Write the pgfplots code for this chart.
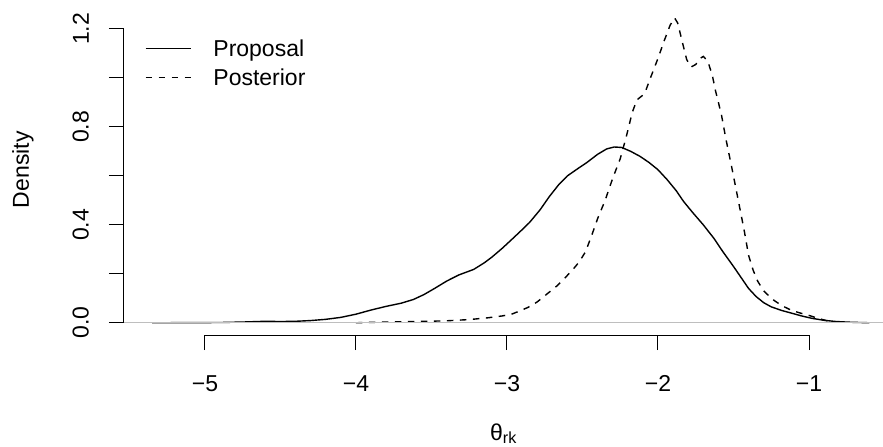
\documentclass[border=0pt]{standalone}
\usepackage{fontspec}
\setmainfont{Liberation Sans}
\usepackage{pgfplots}
\pgfplotsset{compat=1.18}
\definecolor{rgray}{RGB}{190,190,190}
\begin{document}
\fontsize{23bp}{27bp}\selectfont
\begin{tikzpicture}
\begin{axis}[
 name=ax,
 scale only axis, width=759bp, height=330.5bp,
 xmin=-5.536, xmax=-0.51, ymin=-0.05, ymax=1.30,
 clip=false,
 axis x line*=bottom, axis y line*=left,
 axis line style={draw=none},
 xtick={-5,-4,-3,-2,-1},
 xticklabels={−5,−4,−3,−2,−1},
 ytick={0,0.2,0.4,0.6,0.8,1.0,1.2},
 yticklabels={0.0,,0.4,,0.8,,1.2},
 minor tick num=0,
 tick align=outside, major tick length=15bp,
 tick style={black, line width=1bp},
 xticklabel style={anchor=north, inner sep=0pt},
 yticklabel style={rotate=90, anchor=south, inner sep=0pt},
 xticklabel shift=25bp,
 yticklabel shift=20bp,
 xlabel={θ\textsubscript{rk}},
 ylabel={Density},
 xlabel style={at={(axis description cs:0.5,-0.3177)}, anchor=base, inner sep=0pt},
 ylabel style={at={(axis description cs:-0.1252,0.5)}, anchor=base, inner sep=0pt},
 legend style={at={(axis description cs:0.0277,0.8926)}, anchor=north west, draw=none, fill=none,
   inner sep=0pt, outer sep=0pt, column sep=22bp, row sep=12.5bp,
   nodes={inner sep=0pt, text height=16.5bp, text depth=0pt}},
 legend cell align=left,
 legend image code/.code={\draw[#1] (0bp,0bp) -- (45bp,0bp);},
]
\addplot[black, line width=1.4bp] coordinates {
(-5.35,0.000) (-5.1,0.0005) (-4.9,0.001) (-4.75,0.003) (-4.6,0.006) (-4.5,0.005)
(-4.4,0.006) (-4.3,0.009) (-4.2,0.014) (-4.1,0.022) (-4.0,0.035) (-3.9,0.052)
(-3.8,0.067) (-3.7,0.080) (-3.62,0.095) (-3.55,0.115) (-3.48,0.140) (-3.4,0.170)
(-3.32,0.195) (-3.22,0.218) (-3.15,0.245) (-3.1,0.268) (-3.03,0.305) (-2.96,0.345)
(-2.9,0.380) (-2.85,0.410) (-2.78,0.462) (-2.72,0.515) (-2.66,0.562) (-2.6,0.600)
(-2.53,0.630) (-2.47,0.655) (-2.4,0.688) (-2.34,0.710) (-2.29,0.718) (-2.24,0.716)
(-2.18,0.700) (-2.12,0.680) (-2.06,0.655) (-2.0,0.625) (-1.94,0.585) (-1.88,0.540)
(-1.83,0.495) (-1.77,0.450) (-1.70,0.400) (-1.63,0.345) (-1.57,0.290) (-1.50,0.230)
(-1.45,0.185) (-1.40,0.140) (-1.35,0.107) (-1.30,0.082) (-1.25,0.065) (-1.18,0.050)
(-1.12,0.040) (-1.05,0.028) (-0.98,0.018) (-0.90,0.010) (-0.82,0.005) (-0.72,0.002)
(-0.60,0.000)
};
\addlegendentry{Proposal}
\addplot[black, line width=1.4bp, dash pattern=on 6.5bp off 6.5bp] coordinates {
(-4.0,0.000) (-3.8,0.003) (-3.6,0.005) (-3.4,0.008) (-3.25,0.013) (-3.13,0.020)
(-3.03,0.028) (-2.97,0.035) (-2.92,0.047) (-2.86,0.063) (-2.80,0.085) (-2.74,0.115)
(-2.67,0.150) (-2.61,0.187) (-2.56,0.220) (-2.52,0.250) (-2.48,0.290) (-2.44,0.355)
(-2.40,0.425) (-2.35,0.500) (-2.30,0.590) (-2.25,0.670) (-2.21,0.760) (-2.17,0.860)
(-2.14,0.910) (-2.10,0.930) (-2.08,0.950) (-2.05,1.000) (-2.00,1.080) (-1.96,1.150)
(-1.92,1.215) (-1.89,1.245) (-1.87,1.225) (-1.84,1.150) (-1.81,1.075) (-1.78,1.045)
(-1.75,1.055) (-1.72,1.080) (-1.70,1.088) (-1.67,1.068) (-1.64,1.010) (-1.62,0.950)
(-1.58,0.850) (-1.55,0.750) (-1.51,0.630) (-1.47,0.505) (-1.43,0.380) (-1.40,0.275)
(-1.37,0.215) (-1.34,0.170) (-1.30,0.130) (-1.24,0.095) (-1.18,0.070) (-1.12,0.052)
(-1.06,0.040) (-1.00,0.030) (-0.94,0.018) (-0.88,0.008) (-0.83,0.002)
};
\addlegendentry{Posterior}
\draw[rgray, line width=1bp] (axis cs:-5.536,0) -- (axis cs:-0.51,0);
\draw[black, line width=1bp] (axis cs:-5,-0.05) -- (axis cs:-1,-0.05);
\draw[black, line width=1bp] (axis cs:-5.536,0) -- (axis cs:-5.536,1.2);
\end{axis}
\pgfresetboundingbox
\path ([xshift=-124bp,yshift=-112bp]ax.south west) rectangle ([yshift=4.5bp]ax.north east);
\end{tikzpicture}
\end{document}
